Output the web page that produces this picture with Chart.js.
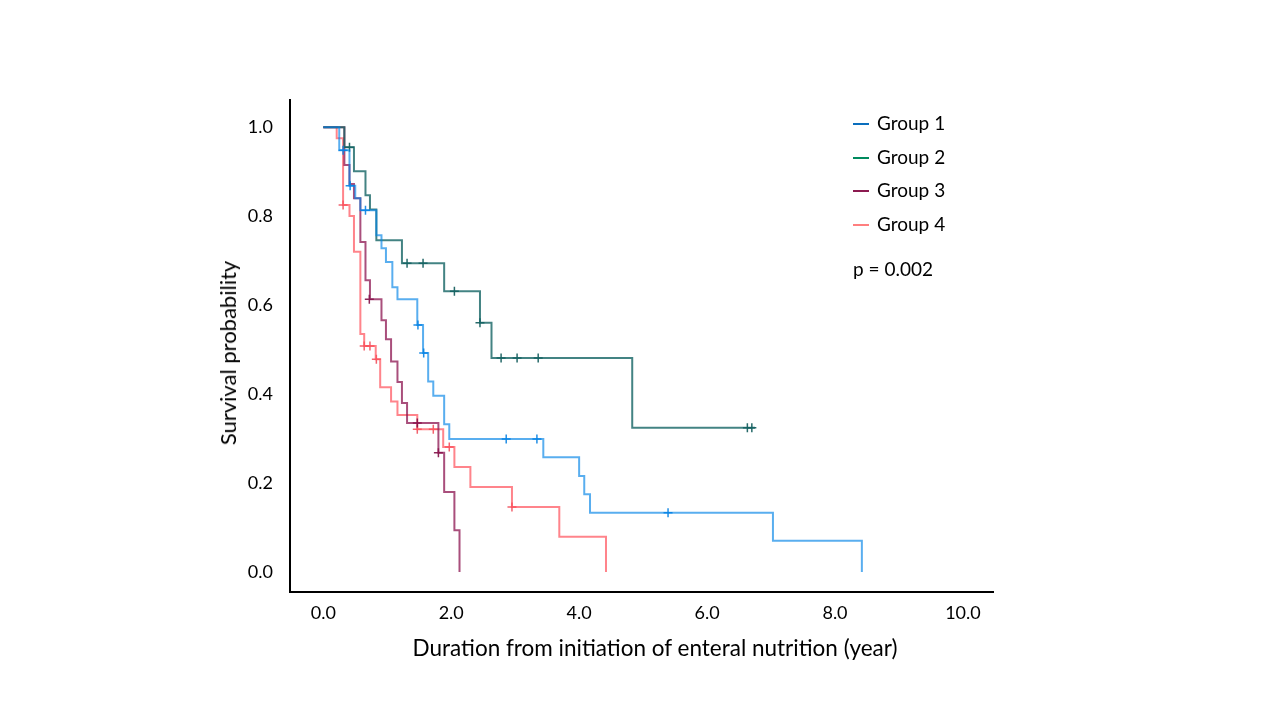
<!DOCTYPE html>
<html>
<head>
<meta charset="utf-8">
<title>Survival probability by group</title>
<script src="https://cdn.jsdelivr.net/npm/chart.js@4"></script>
<style>
  html, body { margin: 0; padding: 0; background: #fff; }
  #wrap { position: relative; width: 1280px; height: 720px; }
  #legend { position: absolute; left: 853px; top: 111px; font-family: Lato, sans-serif; font-size: 19px; color: #000; }
  .item { height: 33.5px; display: flex; align-items: flex-start; }
  .swatch { width: 16px; height: 2px; margin-top: 12px; margin-right: 8px; }
  #pval { position: absolute; left: 853px; top: 257px; font-family: Lato, sans-serif; font-size: 19px; color: #000; }
  #xTitle { position: absolute; left: 0; width: 1310px; top: 635px; line-height: 26px; text-align: center; font-family: Lato, sans-serif; font-size: 22.5px; color: #000; white-space: nowrap; }
  #yTitle { position: absolute; left: 228px; top: 353px; transform: translate(-50%, -50%) rotate(-90deg); line-height: 26px; font-family: Lato, sans-serif; font-size: 22px; color: #000; white-space: nowrap; }
</style>
</head>
<body>
<div id="wrap">
  <canvas id="kmChart" width="1280" height="720"></canvas>
  <div id="legend"></div>
  <div id="pval">p = 0.002</div>
  <div id="xTitle">Duration from initiation of enteral nutrition (year)</div>
  <div id="yTitle">Survival probability</div>
</div>
<script>
// Datos (tiempo en años, supervivencia)
const groupNames = ['Group 1', 'Group 2', 'Group 3', 'Group 4'];

const g1Time = [0, 0.25, 0.41, 0.50, 0.58, 0.83, 0.91, 0.98, 1.08, 1.16, 1.47, 1.56, 1.64, 1.72, 1.89, 1.97, 3.44, 4.00, 4.08, 4.17, 7.03, 8.42];
const g1Surv = [1.0, 0.948, 0.868, 0.84, 0.813, 0.757, 0.728, 0.697, 0.64, 0.613, 0.555, 0.492, 0.428, 0.396, 0.332, 0.299, 0.258, 0.216, 0.175, 0.133, 0.070, 0.0];
const g1CensTime = [0.31, 0.42, 0.66, 1.48, 1.57, 2.86, 3.34, 5.39];
const g1CensSurv = [0.948, 0.868, 0.813, 0.555, 0.492, 0.299, 0.299, 0.133];

const g2Time = [0, 0.33, 0.48, 0.66, 0.73, 0.83, 1.23, 1.89, 2.45, 2.63, 4.83, 6.75];
const g2Surv = [1.0, 0.955, 0.901, 0.847, 0.815, 0.746, 0.694, 0.631, 0.56, 0.481, 0.324, 0.324];
const g2CensTime = [0.41, 1.31, 1.56, 2.05, 2.45, 2.78, 3.03, 3.36, 6.63, 6.70];
const g2CensSurv = [0.955, 0.694, 0.694, 0.631, 0.56, 0.481, 0.481, 0.481, 0.324, 0.324];

const g3Time = [0, 0.33, 0.41, 0.48, 0.58, 0.66, 0.73, 0.91, 0.98, 1.06, 1.16, 1.23, 1.31, 1.80, 1.89, 2.05, 2.13];
const g3Surv = [1.0, 0.915, 0.872, 0.84, 0.742, 0.656, 0.613, 0.566, 0.523, 0.473, 0.427, 0.38, 0.335, 0.268, 0.18, 0.094, 0.0];
const g3CensTime = [0.72, 1.47, 1.80];
const g3CensSurv = [0.613, 0.335, 0.268];

const g4Time = [0, 0.21, 0.31, 0.41, 0.48, 0.58, 0.64, 0.82, 0.89, 1.06, 1.16, 1.47, 1.875, 2.05, 2.30, 2.95, 3.69, 4.42];
const g4Surv = [1.0, 0.975, 0.825, 0.80, 0.72, 0.535, 0.508, 0.478, 0.415, 0.383, 0.353, 0.321, 0.281, 0.236, 0.191, 0.146, 0.079, 0.0];
const g4CensTime = [0.31, 0.64, 0.73, 0.83, 1.47, 1.72, 1.97, 2.95];
const g4CensSurv = [0.825, 0.508, 0.508, 0.478, 0.321, 0.321, 0.281, 0.146];

const xTickValues = [0, 2, 4, 6, 8, 10];
const yTickValues = [0, 0.2, 0.4, 0.6, 0.8, 1.0];

// Colores
const lineColors = ['rgba(0,130,230,0.65)', 'rgba(20,100,100,0.8)', 'rgba(140,20,80,0.75)', 'rgba(255,80,90,0.7)'];
const censColors = ['rgba(10,130,225,0.9)', 'rgba(15,90,90,0.9)', 'rgba(130,15,70,0.9)', 'rgba(240,70,85,0.85)'];
const legendColors = ['#0a6ebd', '#008a5e', '#8c1a50', '#ff7f7f'];

const toPoints = (xs, ys) => xs.map((x, i) => ({ x: x, y: ys[i] }));

const curves = [
    [g1Time, g1Surv, g1CensTime, g1CensSurv],
    [g2Time, g2Surv, g2CensTime, g2CensSurv],
    [g3Time, g3Surv, g3CensTime, g3CensSurv],
    [g4Time, g4Surv, g4CensTime, g4CensSurv]
];

const datasets = [];
curves.forEach((c, i) => {
    datasets.push({
        label: groupNames[i],
        data: toPoints(c[0], c[1]),
        stepped: true,
        borderColor: lineColors[i],
        borderWidth: 2,
        pointRadius: 0,
        fill: false
    });
    datasets.push({
        label: groupNames[i] + ' censored',
        data: toPoints(c[2], c[3]),
        showLine: false,
        pointStyle: 'cross',
        pointRadius: 4.5,
        pointBorderWidth: 1.5,
        borderColor: censColors[i],
        backgroundColor: censColors[i]
    });
});

const tickFont = { family: 'Lato', size: 18 };

new Chart(document.getElementById('kmChart'), {
    type: 'line',
    data: { datasets: datasets },
    options: {
        responsive: false,
        animation: false,
        devicePixelRatio: 1,
        layout: { padding: { left: 213, right: 287, top: 100, bottom: 60 } },
        plugins: {
            legend: { display: false },
            tooltip: { enabled: false }
        },
        scales: {
            x: {
                type: 'linear',
                min: -0.52,
                max: 10.47,
                afterBuildTicks: (s) => { s.ticks = xTickValues.map(v => ({ value: v })); },
                afterFit: (s) => { s.height = 68; },
                ticks: {
                    callback: (v) => Number(v).toFixed(1),
                    font: tickFont,
                    color: '#000',
                    padding: 2,
                    maxRotation: 0,
                    autoSkip: false
                },
                grid: { display: false },
                border: { display: true, color: '#000', width: 2 }
            },
            y: {
                type: 'linear',
                min: -0.045,
                max: 1.061,
                afterBuildTicks: (s) => { s.ticks = yTickValues.map(v => ({ value: v })); },
                afterFit: (s) => { s.width = 77; },
                ticks: {
                    callback: (v) => Number(v).toFixed(1),
                    font: tickFont,
                    color: '#000',
                    padding: 9,
                    autoSkip: false
                },
                grid: { display: false },
                border: { display: true, color: '#000', width: 2 }
            }
        }
    }
});

// Leyenda en HTML
const legendEl = document.getElementById('legend');
groupNames.forEach((name, i) => {
    const row = document.createElement('div');
    row.className = 'item';
    row.innerHTML = '<span class="swatch" style="background:' + legendColors[i] + '"></span><span>' + name + '</span>';
    legendEl.appendChild(row);
});
</script>
</body>
</html>
